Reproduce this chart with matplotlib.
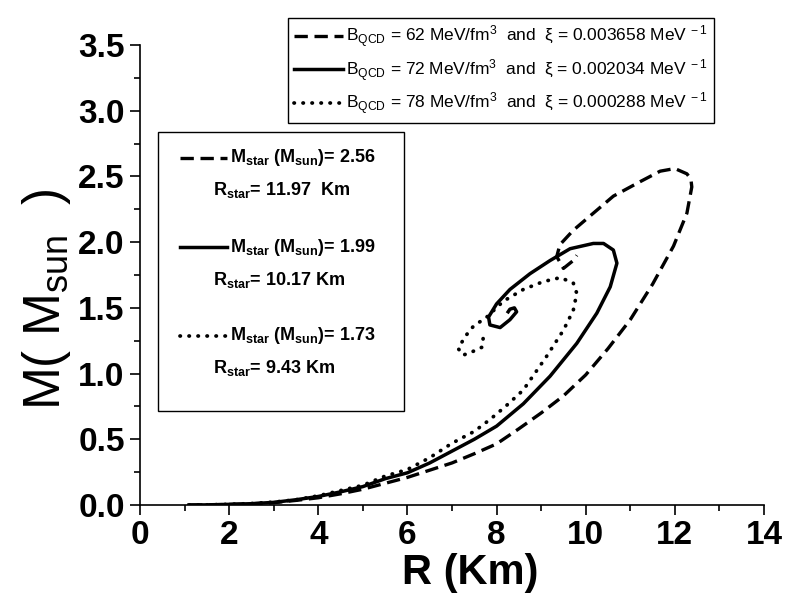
import matplotlib
matplotlib.use("Agg")
import matplotlib.pyplot as plt
from matplotlib.lines import Line2D
from matplotlib.patches import Rectangle
from matplotlib.ticker import MultipleLocator

plt.rcParams['font.family'] = ['Liberation Sans', 'DejaVu Sans']
plt.rcParams['mathtext.fontset'] = 'custom'
plt.rcParams['mathtext.rm'] = 'Liberation Sans'
plt.rcParams['mathtext.it'] = 'Liberation Sans:italic'
plt.rcParams['mathtext.bf'] = 'Liberation Sans:bold'

# ---- data ----
R_62 = [1.1, 1.5, 2.0, 2.5, 3.0, 3.5, 4.0, 4.5, 5.0, 5.5, 6.0, 6.5, 7.0, 7.5, 8.0, 8.5,
        9.0, 9.5, 10.0, 10.5, 11.0, 11.5, 11.97, 12.27, 12.38, 12.36, 12.27, 12.0, 11.67,
        11.22, 10.62, 10.17, 9.72, 9.42, 9.35, 9.5, 9.72, 9.80]
M_62 = [0.0, 0.001, 0.004, 0.009, 0.018, 0.035, 0.055, 0.085, 0.12, 0.165, 0.21, 0.265,
        0.32, 0.39, 0.465, 0.58, 0.70, 0.83, 0.99, 1.19, 1.41, 1.68, 1.97, 2.22, 2.42,
        2.48, 2.52, 2.56, 2.54, 2.46, 2.35, 2.22, 2.09, 1.98, 1.89, 1.80, 1.86, 1.90]

R_72 = [1.1, 1.5, 2.0, 2.5, 3.0, 3.5, 4.0, 4.5, 5.0, 5.5, 6.0, 6.5, 7.0, 7.5, 8.0, 8.6,
        9.2, 9.8, 10.25, 10.55, 10.70, 10.62, 10.40, 10.17, 9.65, 9.20, 8.75, 8.30, 8.0,
        7.82, 7.85, 8.08, 8.30, 8.45, 8.40, 8.30, 8.26]
M_72 = [0.0, 0.001, 0.005, 0.010, 0.020, 0.040, 0.065, 0.10, 0.14, 0.20, 0.245, 0.32,
        0.41, 0.50, 0.60, 0.77, 0.98, 1.23, 1.46, 1.66, 1.84, 1.94, 1.99, 1.99, 1.95,
        1.86, 1.76, 1.64, 1.53, 1.43, 1.37, 1.35, 1.41, 1.47, 1.50, 1.49, 1.47]

R_78 = [1.1, 1.5, 2.0, 2.5, 3.0, 3.5, 4.0, 4.5, 5.0, 5.5, 6.0, 6.5, 7.0, 7.5, 7.85, 8.2,
        8.6, 9.12, 9.5, 9.72, 9.80, 9.72, 9.43, 9.05, 8.6, 8.15, 7.78, 7.48, 7.29, 7.14,
        7.25, 7.48, 7.67, 7.70, 7.59]
M_78 = [0.0, 0.001, 0.005, 0.011, 0.022, 0.040, 0.070, 0.11, 0.15, 0.22, 0.27, 0.36,
        0.47, 0.56, 0.65, 0.75, 0.875, 1.13, 1.33, 1.48, 1.61, 1.69, 1.73, 1.70, 1.64,
        1.55, 1.43, 1.36, 1.28, 1.19, 1.14, 1.17, 1.20, 1.27, 1.28]

legend_top = [r'B$_{\mathregular{QCD}}$ = 62 MeV/fm$^{\mathregular{3}}$  and  ξ = 0.003658 MeV$^{\mathregular{\ -1}}$',
              r'B$_{\mathregular{QCD}}$ = 72 MeV/fm$^{\mathregular{3}}$  and  ξ = 0.002034 MeV$^{\mathregular{\ -1}}$',
              r'B$_{\mathregular{QCD}}$ = 78 MeV/fm$^{\mathregular{3}}$  and  ξ = 0.000288 MeV$^{\mathregular{\ -1}}$']
mass_labels = [r'M$_{\mathbf{star}}$ (M$_{\mathbf{sun}}$)= 2.56',
               r'M$_{\mathbf{star}}$ (M$_{\mathbf{sun}}$)= 1.99',
               r'M$_{\mathbf{star}}$ (M$_{\mathbf{sun}}$)= 1.73']
radius_labels = [r'R$_{\mathbf{star}}$= 11.97  Km',
                 r'R$_{\mathbf{star}}$= 10.17 Km',
                 r'R$_{\mathbf{star}}$= 9.43 Km']

styles = [dict(linestyle=(0, (4, 2)), linewidth=2.4, dash_capstyle='butt'),
          dict(linestyle='-', linewidth=2.5),
          dict(linestyle=(0, (0.1, 2.3)), linewidth=2.7, dash_capstyle='round')]

W, H = 785, 594
fig = plt.figure(figsize=(W / 100, H / 100), dpi=100)
ax = fig.add_axes([140 / W, 1 - 505 / H, 624 / W, 460 / H])

lines = []
for R, M, st in zip([R_62, R_72, R_78], [M_62, M_72, M_78], styles):
    ln, = ax.plot(R, M, color='black', **st)
    lines.append(ln)

ax.set_xlim(0, 14)
ax.set_ylim(0, 3.5)
ax.xaxis.set_major_locator(MultipleLocator(2))
ax.xaxis.set_minor_locator(MultipleLocator(1))
ax.yaxis.set_major_locator(MultipleLocator(0.5))
ax.yaxis.set_minor_locator(MultipleLocator(0.25))
ax.yaxis.set_major_formatter(matplotlib.ticker.FormatStrFormatter('%.1f'))
for s in ['top', 'right']:
    ax.spines[s].set_visible(False)
for s in ['left', 'bottom']:
    ax.spines[s].set_linewidth(1.2)
ax.tick_params(which='major', direction='out', length=7, width=1.2, labelsize=24, pad=4)
ax.tick_params(which='minor', direction='out', length=4, width=1.2)
for lab in ax.get_xticklabels() + ax.get_yticklabels():
    lab.set_fontweight('bold')

ax.set_xlabel('R (Km)', fontsize=30, fontweight='bold')
ax.xaxis.label.set_va('baseline')
ax.xaxis.set_label_coords(0.53, -0.172)
ax.set_ylabel(r'M( M$_{\mathregular{sun}}$  )', fontsize=37)
ax.yaxis.set_label_coords(-0.108, 0.446)

# top legend
leg = fig.legend(lines, legend_top, loc='upper right',
                 bbox_to_anchor=(723 / W, 1 - 9 / H), fontsize=12.5,
                 handlelength=2.8, handletextpad=0.2, labelspacing=0.4,
                 borderpad=0.35, fancybox=False, framealpha=1, edgecolor='black')
leg.get_frame().set_linewidth(1.0)

# left info box
fig.add_artist(Rectangle((158 / W, 1 - 411 / H), 246 / W, 279 / H,
                         transform=fig.transFigure, fill=False, edgecolor='black', linewidth=1.0))
ys_m = [158, 247, 336]
ys_r = [190, 280, 368]
for st, ym, yr, ml, rl in zip(styles, ys_m, ys_r, mass_labels, radius_labels):
    fig.add_artist(Line2D([180 / W, 227 / W], [1 - ym / H, 1 - ym / H],
                          transform=fig.transFigure, color='black', **st))
    fig.text(230 / W, 1 - ym / H, ml, fontsize=13, fontweight='bold', va='center', ha='left')
    fig.text(213 / W, 1 - yr / H, rl, fontsize=13, fontweight='bold', va='center', ha='left')

fig.savefig('out.png', dpi=100)
